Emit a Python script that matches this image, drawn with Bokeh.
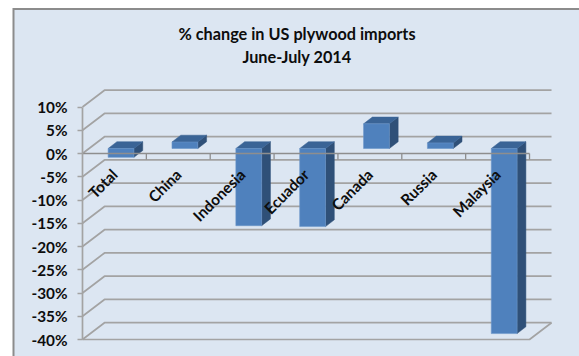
from bokeh.embed import file_html
from bokeh.resources import INLINE
from bokeh.core.properties import value
from bokeh.models import ColumnDataSource, FixedTicker, LinearAxis, PrintfTickFormatter, Range1d
from bokeh.plotting import figure

categories = ["Total", "China", "Indonesia", "Ecuador", "Canada", "Russia", "Malaysia"]
changes = [-1.9, 1.4, -16.6, -16.8, 5.3, 1.2, -39.8]
y_ticks = [10, 5, 0, -5, -10, -15, -20, -25, -30, -35, -40]
title_lines = ["% change in US plywood imports", "June-July 2014"]

W, H = 579, 356
LEFT_PX, BOTTOM_PX = 82.0, 339.0
BAND_PX, PCT_PX = 63.86, 4.65
FONT = "Lato"
INK = "#0d0d0d"
GRID = "#a3a3a3"
AXIS = "#8e8e8e"
PANEL = "#dce6f2"
RULE = "#8c8c8c"


def px_x(px):
    return (px - LEFT_PX) / BAND_PX


def px_y(py):
    return -40 + (BOTTOM_PX - py) / PCT_PX


# Oblique projection of the 3-D box, expressed in data units
WALL_DX, WALL_DY = 22.0 / BAND_PX, 16.8 / PCT_PX
BAR_W = 25.8 / BAND_PX
BAR_DX, BAR_DY = 8.8 / BAND_PX, 6.8 / PCT_PX
SHIFT_DX, SHIFT_DY = 6.6 / BAND_PX, 5.0 / PCT_PX

p = figure(frame_width=W, frame_height=H,
           x_range=Range1d(px_x(0), px_x(W)), y_range=Range1d(px_y(H), px_y(0)),
           output_backend="svg", toolbar_location=None, min_border=0,
           x_axis_type=None, y_axis_type=None, outline_line_color=None,
           background_fill_color="white", border_fill_color="white")
p.grid.visible = False

# Chart area panel with its top and left rule
p.quad(left=[px_x(12)], right=[px_x(W + 5)], top=[px_y(7.5)], bottom=[px_y(H + 5)],
       fill_color=RULE, line_color=None)
p.quad(left=[px_x(14)], right=[px_x(W + 5)], top=[px_y(9.5)], bottom=[px_y(H + 5)],
       fill_color=PANEL, line_color=None)

n = len(categories)

# Back wall gridlines and the side wall diagonals
p.multi_line(xs=[[0, WALL_DX, n + WALL_DX] for _ in y_ticks],
             ys=[[t, t + WALL_DY, t + WALL_DY] for t in y_ticks],
             line_color=GRID, line_width=1.7)

# Floor front edge and right edge
p.line([0, n, n + WALL_DX], [-40, -40, -40 + WALL_DY], line_color=GRID, line_width=1.7)

# Bars: front face, side face and cap, all projected from the value
fronts_x, fronts_y, sides_x, sides_y, caps_x, caps_y = [], [], [], [], [], []
for i, v in enumerate(changes):
    x0 = i + 0.5 - BAR_W / 2 + SHIFT_DX
    x1 = x0 + BAR_W
    lo, hi = sorted((0, v))
    lo += SHIFT_DY
    hi += SHIFT_DY
    fronts_x.append([x0, x1, x1, x0])
    fronts_y.append([lo, lo, hi, hi])
    sides_x.append([x1, x1 + BAR_DX, x1 + BAR_DX, x1])
    sides_y.append([lo, lo + BAR_DY, hi + BAR_DY, hi])
    caps_x.append([x0, x1, x1 + BAR_DX, x0 + BAR_DX])
    caps_y.append([hi, hi, hi + BAR_DY, hi + BAR_DY])

p.patches(sides_x, sides_y, fill_color="#2f5078", line_color="#2f5078", line_width=0.5)
p.patches(caps_x, caps_y, fill_color="#3a6496", line_color="#3a6496", line_width=0.5)
p.patches(fronts_x, fronts_y, fill_color="#4f81bd", line_color="#6a95c9", line_width=0.6)

# Category axis resting on the zero plane, drawn over the bars
p.line([0, n], [0, 0], line_color=AXIS, line_width=1.7)
p.segment(x0=list(range(1, n + 1)), y0=[0] * n,
          x1=list(range(1, n + 1)), y1=[-6.0 / PCT_PX] * n,
          line_color=AXIS, line_width=1.3)

label_source = ColumnDataSource(dict(x=[i + 0.5 for i in range(n)], y=[-3.9] * n, text=categories))
p.text("x", "y", text="text", source=label_source, angle=45, angle_units="deg",
       text_align="right", text_baseline="middle", text_color=INK,
       text_font=value(FONT), text_font_style="bold", text_font_size="11.5pt")

# Percent axis on the left edge of the box
yaxis = LinearAxis(ticker=FixedTicker(ticks=y_ticks),
                   formatter=PrintfTickFormatter(format="%d%%"),
                   bounds=(-40, 10), fixed_location=0,
                   axis_line_color=GRID, axis_line_width=1.7,
                   major_tick_line_color=GRID, major_tick_line_width=1.3,
                   major_tick_in=0, major_tick_out=5, minor_tick_line_color=None,
                   major_label_standoff=10,
                   major_label_text_font=FONT, major_label_text_font_style="bold",
                   major_label_text_font_size="11.5pt", major_label_text_color=INK)
p.add_layout(yaxis, "left")

# Two-line heading, centred above the box
p.text([px_x(296.5)] * 2, [px_y(32.5), px_y(55.5)], text=title_lines,
       text_align="center", text_baseline="middle", text_color=INK,
       text_font=value(FONT), text_font_style="bold", text_font_size="12.2pt")

open("out.html", "w").write(file_html(p, INLINE))
